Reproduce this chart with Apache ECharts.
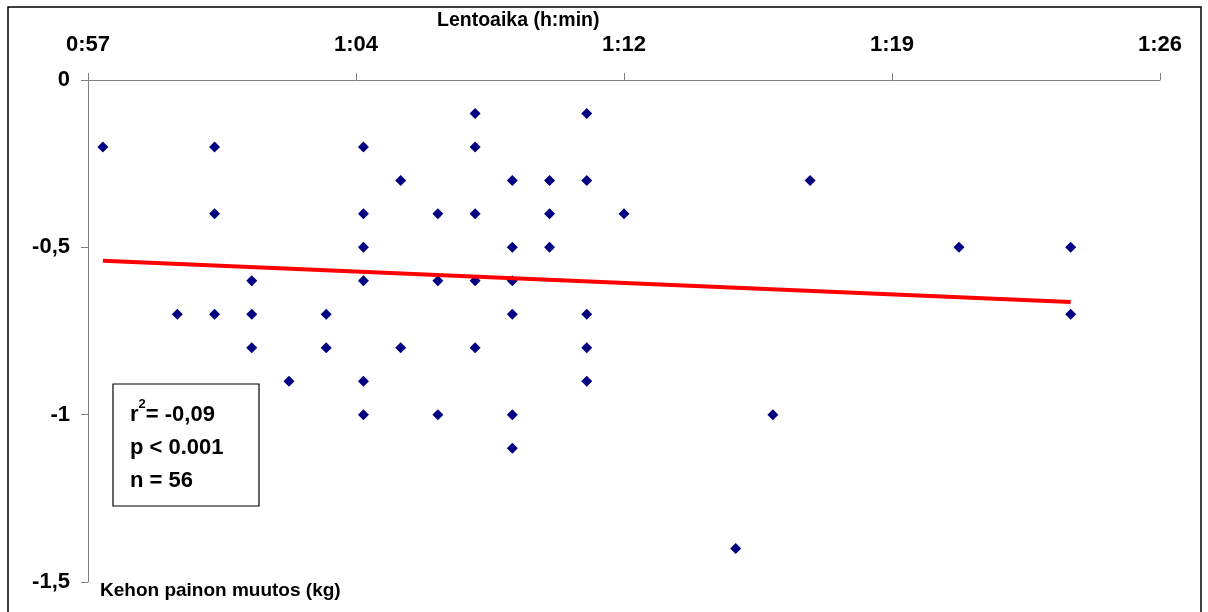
<!DOCTYPE html>
<html>
<head>
<meta charset="utf-8">
<script src="https://cdn.jsdelivr.net/npm/echarts@6/dist/echarts.min.js"></script>
<style>
  html, body { margin: 0; padding: 0; background: #fff; }
  #chart { width: 1208px; height: 612px; }
</style>
</head>
<body>
<div id="chart"></div>
<script>
// flight time in minutes, weight change in kg
var lentoaika = [
  58, 60, 61, 61, 61, 62, 62, 62, 63, 64, 64,
  65, 65, 65, 65, 65, 65, 66, 66, 67, 67, 67,
  68, 68, 68, 68, 68, 69, 69, 69, 69, 69, 69,
  70, 70, 70, 71, 71, 71, 71, 71, 72, 75, 76, 77, 81, 84, 84
]
var painonMuutos = [
  -0.2, -0.7, -0.2, -0.4, -0.7, -0.6, -0.7, -0.8, -0.9, -0.7, -0.8,
  -0.2, -0.4, -0.5, -0.6, -0.9, -1.0, -0.3, -0.8, -0.4, -0.6, -1.0,
  -0.1, -0.2, -0.4, -0.6, -0.8, -0.3, -0.5, -0.6, -0.7, -1.0, -1.1,
  -0.3, -0.4, -0.5, -0.1, -0.3, -0.7, -0.8, -0.9, -0.4, -1.4, -1.0, -0.3, -0.5, -0.5, -0.7
]
// trend line end points
var trendX = [58, 84]
var trendY = [-0.54, -0.663]

var points = lentoaika.map(function(x, i) { return [x, painonMuutos[i]] })
var trend = trendX.map(function(x, i) { return [x, trendY[i]] })

var myChart = echarts.init(document.getElementById('chart'))
var font = 'Liberation Sans, Arial, sans-serif'

var option = {
  backgroundColor: '#fff',
  animation: false,
  grid: { left: 88, right: 48, top: 80, bottom: 30 },
  xAxis: {
    type: 'value',
    position: 'top',
    min: 57.6,
    max: 86.4,
    interval: 7.2,
    axisLine: { show: true, lineStyle: { color: '#808080', width: 1 } },
    axisTick: { show: true, length: 7, lineStyle: { color: '#808080' } },
    splitLine: { show: false },
    axisLabel: {
      margin: 24,
      color: '#000',
      fontFamily: font,
      fontWeight: 'bold',
      fontSize: 22,
      formatter: function(v) {
        var m = Math.floor(v + 1e-6)
        var mm = m % 60
        return Math.floor(m / 60) + ':' + (mm < 10 ? '0' + mm : mm)
      }
    }
  },
  yAxis: {
    type: 'value',
    min: -1.5,
    max: 0,
    interval: 0.5,
    axisLine: { show: true, lineStyle: { color: '#808080', width: 1 } },
    axisTick: { show: true, length: 7, lineStyle: { color: '#808080' } },
    splitLine: { show: false },
    axisLabel: {
      margin: 18,
      color: '#000',
      fontFamily: font,
      fontWeight: 'bold',
      fontSize: 22,
      formatter: function(v) { return String(v).replace('.', ',') }
    }
  },
  graphic: [
    {
      type: 'rect',
      shape: { x: 8, y: 7, width: 1193, height: 620 },
      style: { fill: 'none', stroke: '#000', lineWidth: 1.5 },
      silent: true
    },
    {
      type: 'text',
      left: 437,
      top: 11,
      style: { text: 'Lentoaika (h:min)', font: 'bold 19.5px ' + font, fill: '#000' }
    },
    {
      type: 'text',
      left: 100,
      top: 581,
      style: { text: 'Kehon painon muutos (kg)', font: 'bold 19px ' + font, fill: '#000' }
    },
    {
      type: 'rect',
      shape: { x: 113, y: 384, width: 146, height: 122 },
      style: { fill: '#fff', stroke: '#000', lineWidth: 1.2 }
    },
    {
      type: 'text',
      left: 130,
      top: 398,
      style: {
        text: '{b|r}{s|2}{b|= -0,09}\n{b|p < 0.001}\n{b|n = 56}',
        rich: {
          b: { font: 'bold 22px ' + font, fill: '#000', lineHeight: 33 },
          s: { font: 'bold 13px ' + font, fill: '#000', lineHeight: 33, verticalAlign: 'top', padding: [0, 0, 10, 0] }
        }
      }
    }
  ],
  series: [
    {
      type: 'scatter',
      data: points,
      symbol: 'diamond',
      symbolSize: 11,
      itemStyle: { color: '#000080', opacity: 1 },
      z: 3
    },
    {
      type: 'line',
      data: trend,
      symbol: 'none',
      lineStyle: { color: '#ff0000', width: 4 },
      z: 4
    }
  ]
}

myChart.setOption(option)
</script>
</body>
</html>
